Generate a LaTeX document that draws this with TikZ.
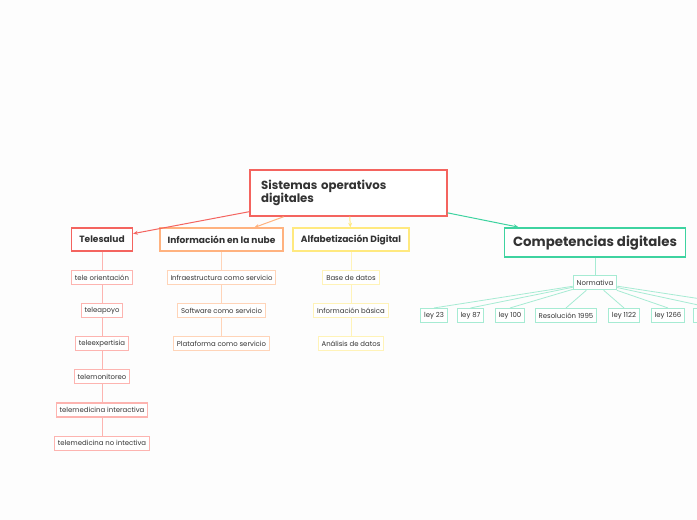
\documentclass[tikz,border=0pt]{standalone}
\usepackage{fontspec}
\setmainfont{Poppins}
\usetikzlibrary{arrows.meta,positioning}
\definecolor{bgc}{HTML}{FDFDFD}
\definecolor{txtc}{HTML}{333333}
\definecolor{redc}{HTML}{F4645F}
\definecolor{redl}{HTML}{FDB4B0}
\definecolor{orgc}{HTML}{FFB27F}
\definecolor{orgl}{HTML}{FFD4B8}
\definecolor{ylwc}{HTML}{FFE97F}
\definecolor{ylwl}{HTML}{FFF3B8}
\definecolor{grnc}{HTML}{3ED3A0}
\definecolor{grnl}{HTML}{A6EBD3}
\tikzset{
  rootbox/.style={draw=redc, line width=1.1pt, fill=white, text=txtc, font=\fontsize{8.8}{10.3}\selectfont\bfseries,
    align=left, text width=131pt, minimum height=34.5pt, inner xsep=8.25pt},
  hdr/.style={draw=#1, line width=1.1pt, fill=white, text=txtc, font=\fontsize{6.8}{8}\selectfont\bfseries,
    minimum height=17pt, inner xsep=5.8pt},
  leaf/.style={draw=#1, line width=0.8pt, fill=white, text=txtc, font=\fontsize{5.2}{6}\selectfont,
    minimum height=10.5pt, inner xsep=2.6pt, inner ysep=1pt},
  arr/.style={-{Stealth[length=3.5pt,width=3pt]}, line width=0.75pt},
  lnk/.style={line width=0.6pt},
}
\begin{document}
\begin{tikzpicture}[x=0.75pt, y=-0.75pt, node distance=13.5pt]
  \useasboundingbox[fill=bgc] (0,0) rectangle (697,520);
  \clip (0,0) rectangle (697,520);
  \node[rootbox] (root) at (348.5,193) {Sistemas operativos\\digitales};
  % main branches
  \node[hdr=redc] (tele) at (102,239.5) {Telesalud};
  \node[hdr=orgc] (nube) at (221.5,239.5) {Información en la nube};
  \node[hdr=ylwc] (alfa) at (351,239.5) {Alfabetización Digital};
  \node[hdr=grnc, font=\fontsize{10}{12}\selectfont\bfseries, minimum height=22pt, inner xsep=6.4pt] (comp) at (595,242.5) {Competencias digitales};
  \draw[arr, redc] (root) -- (tele);
  \draw[arr, orgc] (root) -- (nube);
  \draw[arr, ylwc] (root) -- (alfa);
  \draw[arr, grnc] (root) -- (comp);
  % Telesalud
  \node[leaf=redl, below=14pt of tele] (t1) {tele orientación};
  \node[leaf=redl, below=of t1] (t2) {teleapoyo};
  \node[leaf=redl, below=of t2] (t3) {teleexpertisia};
  \node[leaf=redl, below=of t3] (t4) {telemonitoreo};
  \node[leaf=redl, below=of t4] (t5) {telemedicina interactiva};
  \node[leaf=redl, below=of t5] (t6) {telemedicina no intectiva};
  \draw[lnk, redl] (tele) -- (t1) -- (t2) -- (t3) -- (t4) -- (t5) -- (t6);
  % nube
  \node[leaf=orgl, below=14pt of nube] (n1) {Infraestructura como servicio};
  \node[leaf=orgl, below=of n1] (n2) {Software como servicio};
  \node[leaf=orgl, below=of n2] (n3) {Plataforma como servicio};
  \draw[lnk, orgl] (nube) -- (n1) -- (n2) -- (n3);
  % alfabetizacion
  \node[leaf=ylwl, below=14pt of alfa] (a1) {Base de datos};
  \node[leaf=ylwl, below=of a1] (a2) {Información básica};
  \node[leaf=ylwl, below=of a2] (a3) {Análisis de datos};
  \draw[lnk, ylwl] (alfa) -- (a1) -- (a2) -- (a3);
  % competencias
  \node[leaf=grnl, below=13pt of comp] (norm) {Normativa};
  \draw[lnk, grnl] (comp) -- (norm);
  \node[leaf=grnl] (l1) at (434,315.5) {ley 23};
  \node[leaf=grnl] (l2) at (470.5,315.5) {ley 87};
  \node[leaf=grnl] (l3) at (510,315.5) {ley 100};
  \node[leaf=grnl] (l4) at (566,315.5) {Resolución 1995};
  \node[leaf=grnl] (l5) at (624,315.5) {ley 1122};
  \node[leaf=grnl] (l6) at (668,315.5) {ley 1266};
  \node[leaf=grnl, minimum width=28pt] (l7) at (712,315.5) {};
  \node[leaf=grnl, minimum width=28pt] (l8) at (760,315.5) {};
  \foreach \n in {l1,l2,l3,l4,l5,l6,l7,l8}
    \draw[lnk, grnl] (norm) -- (\n.north);
\end{tikzpicture}
\end{document}
